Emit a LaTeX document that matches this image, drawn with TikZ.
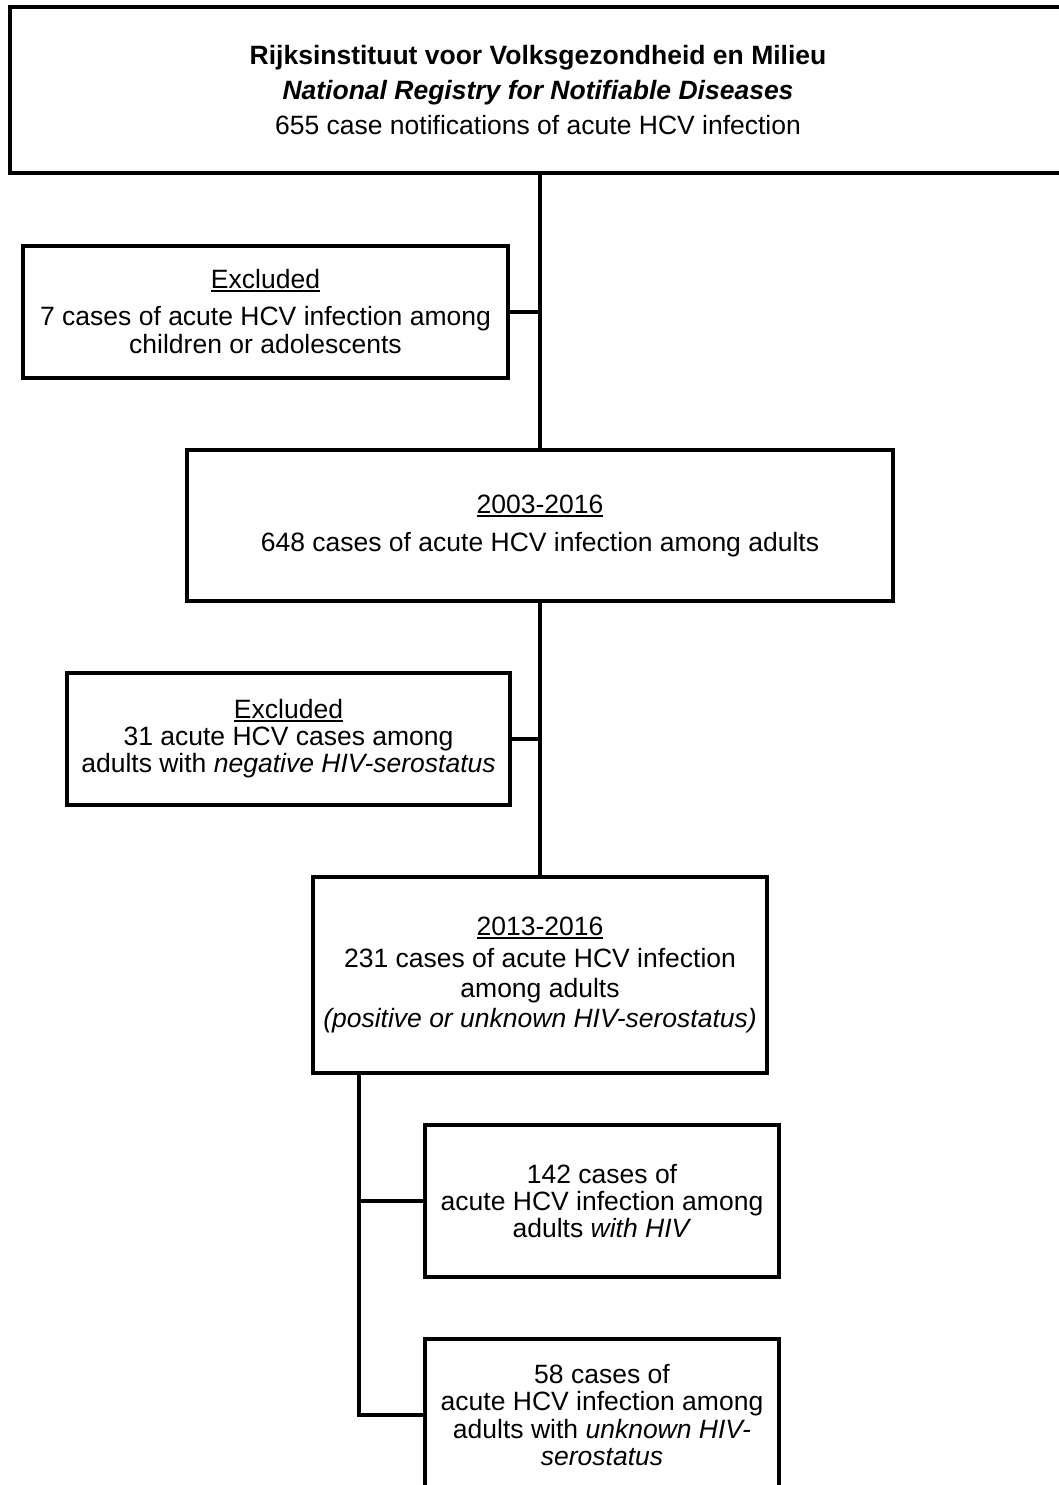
\documentclass[tikz,border=0pt]{standalone}
\usepackage{fontspec}
\setmainfont{Liberation Sans}
\newcommand\myul[1]{\setbox0\hbox{#1}\rlap{\rule[-3.5pt]{\wd0}{2pt}}\box0}
\begin{document}
\begin{tikzpicture}[x=1pt,y=-1pt,
  box/.style={draw, line width=4pt, inner sep=0pt, align=center, font=\fontsize{26.5}{28}\selectfont},
  wire/.style={line width=4pt}]
\fill[white] (0,0) rectangle (1058,1485);
\useasboundingbox (0,0) rectangle (1058,1485);
\node[box, minimum width=1056pt, minimum height=166pt, font=\fontsize{26.5}{28}\selectfont] (top) at (538,90)
  {\textbf{Rijksinstituut voor Volksgezondheid en Milieu}\\[7pt]
   \textbf{\textit{National Registry for Notifiable Diseases}}\\[7pt]
   655 case notifications of acute HCV infection};
\node[box, minimum width=485pt, minimum height=132pt] (ex1) at (265.5,312)
  {\myul{Excluded}\\[9pt] 7 cases of acute HCV infection among\\ children or adolescents};
\node[box, minimum width=706pt, minimum height=151pt] (b2) at (540,525.5)
  {\myul{2003-2016}\\[10pt] 648 cases of acute HCV infection among adults};
\node[box, minimum width=443pt, minimum height=132pt, font=\fontsize{26.5}{27}\selectfont] (ex2) at (288.5,739)
  {\myul{Excluded}\\ 31 acute HCV cases among\\ adults with \textit{negative HIV-serostatus}};
\node[box, minimum width=454pt, minimum height=196pt, font=\fontsize{26.5}{30}\selectfont] (b3) at (540,975)
  {\myul{2013-2016}\\[2pt] 231 cases of acute HCV infection\\ among adults\\ \textit{(positive or unknown HIV-serostatus)}};
\node[box, minimum width=354pt, minimum height=152pt, font=\fontsize{26.5}{27}\selectfont] (b4) at (602,1201)
  {142 cases of\\ acute HCV infection among\\ adults \textit{with HIV}};
\node[box, minimum width=354pt, minimum height=152pt, font=\fontsize{26.5}{27.5}\selectfont] (b5) at (602,1415)
  {58 cases of\\ acute HCV infection among\\ adults with \textit{unknown HIV-}\\ \textit{serostatus}};
\draw[wire] (top.south -| b2.north) -- (b2.north);
\draw[wire] (ex1.east) -- (ex1.east -| b2.north);
\draw[wire] (b2.south) -- (b3.north);
\draw[wire] (ex2.east) -- (ex2.east -| b2.south);
\coordinate (lt) at (359,1073);
\draw[wire] (lt) |- (b5.west);
\draw[wire] (b4.west) -- (b4.west -| lt);
\end{tikzpicture}
\end{document}
